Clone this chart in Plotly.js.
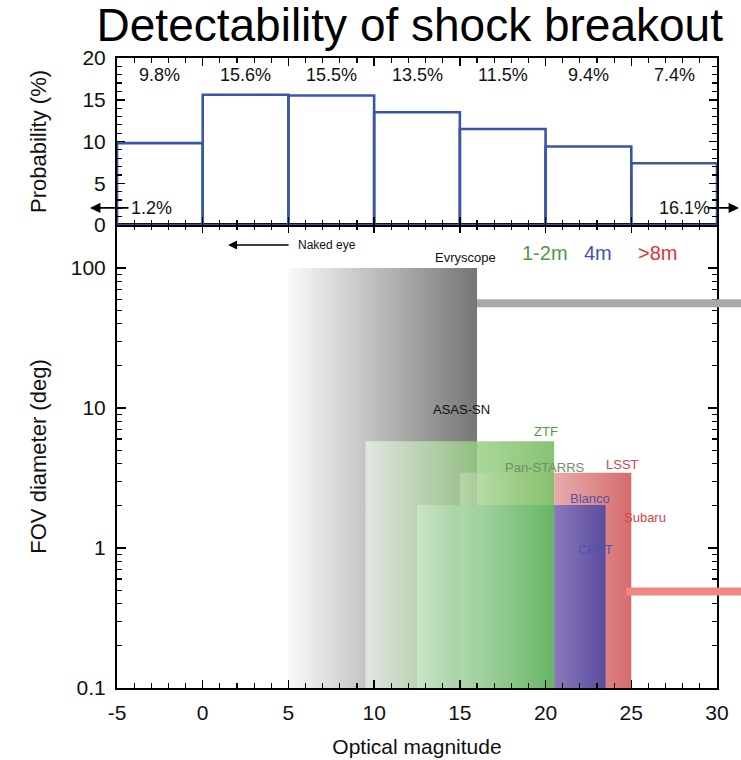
<!DOCTYPE html>
<html>
<head>
<meta charset="utf-8">
<script src="https://cdn.plot.ly/plotly-3.0.1.min.js"></script>
<style>
  html, body { margin: 0; padding: 0; background: #ffffff; }
  #chart { width: 741px; height: 760px; }
</style>
</head>
<body>
<div id="chart"></div>
<script>
// ---- Breakout probability per 5-magnitude bin ----
const binCenters = [-2.5, 2.5, 7.5, 12.5, 17.5, 22.5, 27.5];
const binProb = [9.8, 15.6, 15.5, 13.5, 11.5, 9.4, 7.4];
const binLabels = ['9.8%', '15.6%', '15.5%', '13.5%', '11.5%', '9.4%', '7.4%'];
const tailLabels = ['1.2%', '16.1%'];

// ---- Magnitude axis ticks ----
const magTicks = [-5, 0, 5, 10, 15, 20, 25, 30];
const magTickText = ['-5', '0', '5', '10', '15', '20', '25', '30'];

// ---- Survey coverage boxes: magnitude span and FOV diameter (deg) ----
const boxMagStart = [5, 9.5, 15, 12.5, 20.5, 20.5];
const boxMagEnd = [16, 20.5, 20.5, 20.5, 25, 23.5];
const boxFov = [100, 5.8, 3.45, 2.03, 3.45, 2.03];
const boxFloor = 0.1;

// ---- Narrow bands running past the 30 mag edge ----
const bandFov = [56, 0.49];
const bandMagStart = [16, 24.7];
const bandMagEnd = [31.4, 31.4];

// ---- Survey names ----
const surveyNames = ['Evryscope', 'ASAS-SN', 'ZTF', 'Pan-STARRS', 'LSST', 'Blanco', 'Subaru', 'CFHT'];
const surveyMag = [15.3, 15.07, 20.0, 19.97, 24.46, 22.6, 25.8, 22.9];
const surveyFov = [118, 9.84, 6.85, 3.79, 3.98, 2.24, 1.64, 0.97];

// ---- Aperture classes ----
const classNames = ['1-2m', '4m', '>8m'];
const classMag = [19.97, 23.06, 26.5];
const classFov = [128, 128, 128];

// ---- Naked-eye limit ----
const nakedEyeText = 'Naked eye';
const nakedEyeMag = [1.48, 5.0];
const nakedEyeFov = 146;

const FONT = '"Liberation Sans", Arial, sans-serif';

// fill gradients for each box (left -> right)
const boxGradients = [
  [[0, 'rgb(250,250,250)'], [1, 'rgb(118,118,118)']],
  [[0, 'rgba(236,242,236,0.74)'], [0.6, 'rgba(150,206,128,0.82)'], [1, 'rgba(112,184,88,0.84)']],
  [[0, 'rgba(222,236,212,0.40)'], [1, 'rgba(130,185,95,0.35)']],
  [[0, 'rgba(205,235,205,0.72)'], [1, 'rgba(95,178,100,0.82)']],
  [[0, 'rgb(232,172,172)'], [1, 'rgb(214,108,110)']],
  [[0, 'rgb(138,122,186)'], [1, 'rgb(90,76,160)']]
];
const bandColors = ['#a8a8a8', '#f08880'];
const bandWidths = [8, 8];
const surveyColors = ['#111111', '#111111', '#4f9a48', '#6f8f6c', '#d04545', '#4f52a8', '#d04545', '#4f52a8'];
const classColors = ['#4c9a46', '#3d56b0', '#e03535'];

const traces = [];

// histogram of breakout probability
traces.push({
  type: 'bar', x: binCenters, y: binProb, width: 5,
  xaxis: 'x2', yaxis: 'y2',
  marker: { color: 'rgba(255,255,255,0)', line: { color: '#3a56a8', width: 2.6 } },
  hoverinfo: 'skip', showlegend: false
});

// coverage boxes with horizontal gradients
for (let i = 0; i < boxMagStart.length; i++) {
  const a = boxMagStart[i], b = boxMagEnd[i], top = boxFov[i];
  traces.push({
    type: 'scatter', mode: 'lines',
    x: [a, b, b, a, a], y: [boxFloor, boxFloor, top, top, boxFloor],
    xaxis: 'x', yaxis: 'y',
    fill: 'toself',
    fillgradient: { type: 'horizontal', colorscale: boxGradients[i] },
    line: { width: 0 }, hoverinfo: 'skip', showlegend: false
  });
}

// bands on the wide overlay axis so they run to the page edge
for (let i = 0; i < bandFov.length; i++) {
  traces.push({
    type: 'scatter', mode: 'lines',
    x: [bandMagStart[i], bandMagEnd[i]], y: [bandFov[i], bandFov[i]],
    xaxis: 'x3', yaxis: 'y',
    line: { color: bandColors[i], width: bandWidths[i] },
    hoverinfo: 'skip', showlegend: false
  });
}

const annotations = [];
const plotW = 624; // plot-area width in px (margin.l to page edge)
const px = p => (p - 117) / plotW; // paper x for a page pixel column

// bin percentage labels
binCenters.forEach((c, i) => annotations.push({
  x: c, y: 18, xref: 'x2', yref: 'y2', text: binLabels[i], showarrow: false,
  font: { family: FONT, size: 18, color: '#111' }
}));

// tails beyond the histogram range
annotations.push({ x: -3.0, y: 2.05, xref: 'x2', yref: 'y2', text: tailLabels[0], showarrow: false,
  font: { family: FONT, size: 18, color: '#111' } });
annotations.push({ x: 28.1, y: 2.05, xref: 'x2', yref: 'y2', text: tailLabels[1], showarrow: false,
  font: { family: FONT, size: 18, color: '#111' } });
annotations.push({ x: px(90), y: 2.05, xref: 'paper', yref: 'y2', ax: 40, ay: 0, text: '',
  showarrow: true, arrowhead: 2, arrowsize: 1.3, arrowwidth: 1.6, arrowcolor: '#000' });
annotations.push({ x: px(739), y: 2.05, xref: 'paper', yref: 'y2', ax: -33, ay: 0, text: '',
  showarrow: true, arrowhead: 2, arrowsize: 1.3, arrowwidth: 1.6, arrowcolor: '#000' });

// naked-eye limit (log axis: annotation y in log10 units)
annotations.push({ x: nakedEyeMag[0], y: Math.log10(nakedEyeFov), xref: 'x', yref: 'y', ax: 62, ay: 0, text: '',
  showarrow: true, arrowhead: 2, arrowsize: 1.2, arrowwidth: 1.5, arrowcolor: '#000' });
annotations.push({ x: nakedEyeMag[1] + 0.44, y: Math.log10(nakedEyeFov), xref: 'x', yref: 'y', text: nakedEyeText,
  showarrow: false, xanchor: 'left', font: { family: FONT, size: 12, color: '#111' } });

// survey names
surveyNames.forEach((n, i) => annotations.push({
  x: surveyMag[i], y: Math.log10(surveyFov[i]), xref: 'x', yref: 'y', text: n, showarrow: false,
  font: { family: FONT, size: 13, color: surveyColors[i] }
}));

// aperture classes
classNames.forEach((n, i) => annotations.push({
  x: classMag[i], y: Math.log10(classFov[i]), xref: 'x', yref: 'y', text: n, showarrow: false,
  font: { family: FONT, size: 20, color: classColors[i] }
}));

const axisCommon = {
  showline: true, linecolor: '#000', linewidth: 2, mirror: 'ticks',
  ticks: 'inside', tickcolor: '#000', tickwidth: 1.5, showgrid: false, zeroline: false,
  tickfont: { family: FONT, size: 21, color: '#111' }
};

const domX = [0, 600 / plotW];
const splitY = 463 / 630;

const layout = {
  width: 741, height: 760,
  margin: { l: 117, r: 0, t: 58, b: 72 },
  paper_bgcolor: '#ffffff', plot_bgcolor: 'rgba(0,0,0,0)',
  showlegend: false,
  font: { family: FONT, color: '#111' },
  title: {
    text: 'Detectability of shock breakout',
    font: { family: FONT, size: 46, color: '#000' },
    x: 0.553, xanchor: 'center', xref: 'container',
    y: 0.9678, yanchor: 'middle', yref: 'container'
  },
  // histogram panel
  xaxis2: Object.assign({}, axisCommon, {
    domain: domX, anchor: 'y2', range: [-5, 30], dtick: 5, tick0: 0, ticklen: 8,
    showticklabels: false,
    minor: { dtick: 1, ticks: 'inside', ticklen: 5, tickcolor: '#000', tickwidth: 1.2 }
  }),
  yaxis2: Object.assign({}, axisCommon, {
    domain: [splitY, 1], anchor: 'x2', range: [0, 20], dtick: 5, ticklen: 8,
    ticklabelstandoff: 5,
    minor: { dtick: 1, ticks: 'inside', ticklen: 5, tickcolor: '#000', tickwidth: 1.2 },
    title: { text: 'Probability (%)', font: { family: FONT, size: 22, color: '#111' }, standoff: 30 }
  }),
  // FOV panel
  xaxis: Object.assign({}, axisCommon, {
    domain: domX, anchor: 'y', range: [-5, 30], tickvals: magTicks, ticktext: magTickText, ticklen: 8,
    ticklabelstandoff: 5,
    minor: { dtick: 1, ticks: 'inside', ticklen: 5, tickcolor: '#000', tickwidth: 1.2 },
    title: { text: 'Optical magnitude', font: { family: FONT, size: 21, color: '#111' }, standoff: 16 }
  }),
  yaxis: Object.assign({}, axisCommon, {
    domain: [0, splitY], anchor: 'x', type: 'log', range: [-1, Math.log10(203)],
    tickvals: [0.1, 1, 10, 100], ticktext: ['0.1', '1', '10', '100'], ticklen: 9,
    ticklabelstandoff: 5,
    minor: { dtick: 'D1', ticks: 'inside', ticklen: 5, tickcolor: '#000', tickwidth: 1.2 },
    title: { text: 'FOV diameter (deg)', font: { family: FONT, size: 22, color: '#111' }, standoff: 18 }
  }),
  // wide overlay axis reaching the page edge (same scale as xaxis)
  xaxis3: {
    domain: [0, 1], anchor: 'y', range: [-5, -5 + 35 * plotW / 600],
    visible: false, showgrid: false, zeroline: false
  },
  annotations: annotations
};

Plotly.newPlot('chart', traces, layout, { staticPlot: true, displayModeBar: false });
</script>
</body>
</html>
